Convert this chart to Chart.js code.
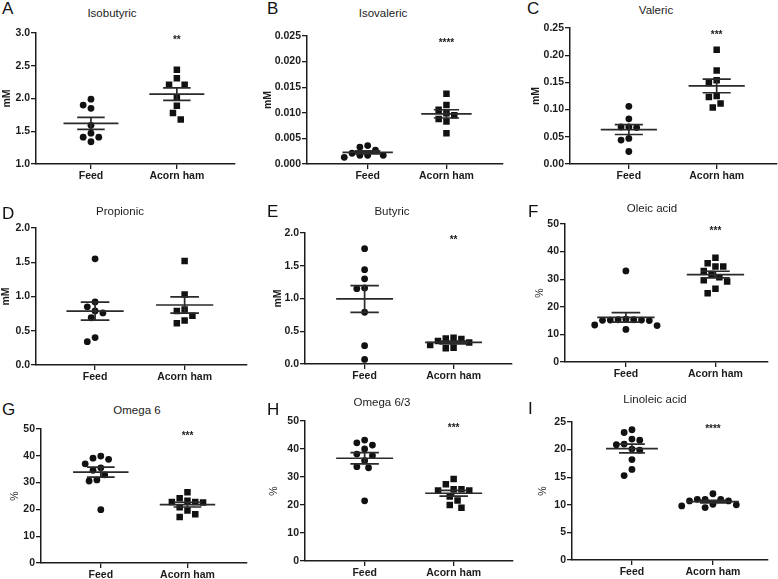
<!DOCTYPE html>
<html>
<head>
<meta charset="utf-8">
<script src="https://cdn.jsdelivr.net/npm/chart.js@4.4.1/dist/chart.umd.min.js"></script>
<style>
body{margin:0;background:#fff;width:778px;height:579px;position:relative;overflow:hidden;font-family:"Liberation Sans",Arial,sans-serif}
canvas{position:absolute}
.lt{position:absolute;font-size:17px;line-height:17px;color:#111}
.tt{position:absolute;font-size:11.5px;color:#1c1c1c;transform:translate(-50%,-50%);white-space:nowrap}
</style>
</head>
<body>
<script>
// ---- data ----
var categories = ["Feed", "Acorn ham"];
var panelLetters = ["A", "B", "C", "D", "E", "F", "G", "H", "I"];
var panelTitles = ["Isobutyric", "Isovaleric", "Valeric", "Propionic", "Butyric", "Oleic acid", "Omega 6", "Omega 6/3", "Linoleic acid"];
var yTitles = ["mM", "mM", "mM", "mM", "mM", "%", "%", "%", "%"];
var sigMarks = ["**", "****", "***", "", "**", "***", "***", "***", "****"];
var hamMarker = ["rect", "rect", "rect", "rect", "rect", "rect", "rect", "rect", "circle"];

var ticksA = ["1.0", "1.5", "2.0", "2.5", "3.0"];
var ticksB = ["0.000", "0.005", "0.010", "0.015", "0.020", "0.025"];
var ticksC = ["0.00", "0.05", "0.10", "0.15", "0.20", "0.25"];
var ticksD = ["0.0", "0.5", "1.0", "1.5", "2.0"];
var ticksE = ["0.0", "0.5", "1.0", "1.5", "2.0"];
var ticksF = ["0", "10", "20", "30", "40", "50"];
var ticksG = ["0", "10", "20", "30", "40", "50"];
var ticksH = ["0", "10", "20", "30", "40", "50"];
var ticksI = ["0", "5", "10", "15", "20", "25"];

var feedA = [1.99, 1.90, 1.85, 1.59, 1.47, 1.41, 1.41, 1.34];
var hamA = [2.44, 2.31, 2.21, 2.21, 2.02, 1.89, 1.78, 1.68];
var feedB = [0.0036, 0.0033, 0.0027, 0.0021, 0.0017, 0.0017, 0.0017, 0.0013];
var hamB = [0.0137, 0.0115, 0.0106, 0.0099, 0.0095, 0.0088, 0.0083, 0.0060];
var feedC = [0.106, 0.083, 0.068, 0.068, 0.067, 0.047, 0.044, 0.023];
var hamC = [0.210, 0.172, 0.154, 0.149, 0.125, 0.123, 0.111, 0.104];
var feedD = [1.55, 0.92, 0.85, 0.79, 0.76, 0.69, 0.40, 0.34];
var hamD = [1.52, 1.03, 0.81, 0.79, 0.72, 0.65, 0.61];
var feedE = [1.76, 1.44, 1.30, 1.16, 1.15, 0.79, 0.28, 0.07];
var hamE = [0.40, 0.39, 0.38, 0.35, 0.33, 0.29, 0.25, 0.24];
var feedF = [33.0, 15.5, 15.3, 15.3, 15.2, 15.2, 15.1, 15.0, 13.4, 13.2, 11.8];
var hamF = [37.8, 35.8, 34.6, 34.6, 33.0, 31.9, 30.7, 29.6, 29.2, 26.5, 24.9];
var feedG = [39.9, 39.1, 38.7, 37.0, 35.5, 34.6, 32.9, 31.0, 30.6, 19.9];
var hamG = [26.4, 24.2, 23.2, 22.8, 22.8, 22.6, 20.8, 19.6, 18.2, 17.2];
var feedH = [43.2, 42.2, 41.4, 40.0, 38.2, 37.6, 35.8, 33.7, 33.3, 21.5];
var hamH = [29.3, 27.4, 25.6, 25.6, 25.2, 25.2, 23.0, 21.6, 20.0, 19.0];
var feedI = [23.6, 23.1, 21.9, 21.7, 21.0, 20.9, 20.1, 19.9, 18.2, 16.4, 15.3];
var hamI = [12.0, 11.0, 11.0, 11.0, 10.7, 10.7, 10.1, 10.0, 9.8, 9.5];

var tickSets = [ticksA, ticksB, ticksC, ticksD, ticksE, ticksF, ticksG, ticksH, ticksI];
var feedSets = [feedA, feedB, feedC, feedD, feedE, feedF, feedG, feedH, feedI];
var hamSets = [hamA, hamB, hamC, hamD, hamE, hamF, hamG, hamH, hamI];

// ---- layout (pixels on the page) ----
var layoutPanels = [
    {axisX: 36, top: 33, bottom: 164, right: 235, titleX: 7, xmin: 0.36, xmax: 2.67, title: [112, 13], letter: [2, 8]},
    {axisX: 307, top: 36, bottom: 164, right: 503, titleX: 268, xmin: 0.23, xmax: 2.71, title: [383, 13], letter: [267, 8]},
    {axisX: 570, top: 28, bottom: 164, right: 777, titleX: 536, xmin: 0.33, xmax: 2.68, title: [656, 10], letter: [527, 8]},
    {axisX: 36, top: 228, bottom: 365, right: 247, titleX: 6, xmin: 0.34, xmax: 2.69, title: [120, 211], letter: [2, 213]},
    {axisX: 305, top: 233, bottom: 364, right: 512, titleX: 278, xmin: 0.33, xmax: 2.65, title: [392, 211], letter: [267, 211]},
    {axisX: 565, top: 224, bottom: 362, right: 768, titleX: 540, xmin: 0.32, xmax: 2.58, title: [652, 208], letter: [528, 211]},
    {axisX: 41, top: 429, bottom: 563, right: 247, titleX: 15, xmin: 0.31, xmax: 2.68, title: [137, 410], letter: [2, 409]},
    {axisX: 305, top: 421, bottom: 561, right: 513, titleX: 274, xmin: 0.33, xmax: 2.66, title: [382, 402], letter: [267, 409]},
    {axisX: 572, top: 422, bottom: 560, right: 768, titleX: 543, xmin: 0.26, xmax: 2.68, title: [655, 399], letter: [528, 408]}
];

var ink = "#1c1c1c";
var tickFont = {family: "Liberation Sans", size: 10.5, weight: "bold"};

function meanOf(v) {
    return v.reduce(function (a, b) { return a + b; }, 0) / v.length;
}
function semOf(v) {
    var m = meanOf(v);
    var ss = v.reduce(function (a, b) { return a + (b - m) * (b - m); }, 0);
    return Math.sqrt(ss / (v.length - 1)) / Math.sqrt(v.length);
}
// mean line + SEM whiskers, broken with null gaps
function barData(v, c) {
    var m = meanOf(v), s = semOf(v);
    return [
        {x: c - 0.32, y: m}, {x: c + 0.32, y: m}, {x: c, y: null},
        {x: c - 0.16, y: m + s}, {x: c + 0.16, y: m + s}, {x: c, y: null},
        {x: c - 0.16, y: m - s}, {x: c + 0.16, y: m - s}, {x: c, y: null},
        {x: c, y: m + s}, {x: c, y: m - s}
    ];
}

// spread points sideways so they don't overlap (dot plot)
function swarm(chart, dsIndex, center) {
    var ds = chart.data.datasets[dsIndex];
    var xs = chart.scales.x, ys = chart.scales.y;
    var cx = xs.getPixelForValue(center);
    var D = 7.8, step = D / 2;
    var placed = [];
    var order = ds.data.map(function (p, i) { return i; })
        .sort(function (a, b) { return ds.data[b].y - ds.data[a].y; });
    order.forEach(function (i) {
        var py = ys.getPixelForValue(ds.data[i].y);
        for (var k = 0; k < 60; k++) {
            var off = (k % 2 ? -1 : 1) * Math.ceil(k / 2) * step;
            var free = placed.every(function (p) { return Math.hypot(p.x - off, p.y - py) >= D; });
            if (free) {
                placed.push({x: off, y: py});
                ds.data[i].x = xs.getValueForPixel(cx + off);
                break;
            }
        }
    });
}

function addText(cls, txt, x, y) {
    var d = document.createElement("div");
    d.className = cls;
    d.textContent = txt;
    d.style.left = x + "px";
    d.style.top = y + "px";
    document.body.appendChild(d);
}

function makePanel(idx) {
    var L = layoutPanels[idx];
    var labels = tickSets[idx];
    var yW = L.axisX - L.titleX + 10;
    var padTop = 8, xH = 22, padRight = 4;
    var w = yW + (L.right - L.axisX) + padRight;
    var h = padTop + (L.bottom - L.top) + xH;

    var canvas = document.createElement("canvas");
    canvas.width = w;
    canvas.height = h;
    canvas.style.left = (L.axisX - yW) + "px";
    canvas.style.top = (L.top - padTop) + "px";
    canvas.style.width = w + "px";
    canvas.style.height = h + "px";
    document.body.appendChild(canvas);

    addText("lt", panelLetters[idx], L.letter[0], L.letter[1] - 8);
    addText("tt", panelTitles[idx], L.title[0], L.title[1]);

    var sig = sigMarks[idx];
    var sigPlugin = {
        id: "sigMark",
        afterDatasetsDraw: function (chart) {
            if (!sig) return;
            var ctx = chart.ctx;
            ctx.save();
            ctx.fillStyle = ink;
            ctx.font = "bold 10px 'Liberation Sans'";
            ctx.textAlign = "center";
            ctx.textBaseline = "top";
            ctx.fillText(sig, chart.scales.x.getPixelForValue(2), chart.chartArea.top + 2);
            ctx.restore();
        }
    };

    var feed = feedSets[idx], ham = hamSets[idx];
    var chart = new Chart(canvas.getContext("2d"), {
        type: "scatter",
        data: {
            datasets: [
                {data: feed.map(function (v) { return {x: 1, y: v}; }), pointStyle: "circle", pointRadius: 3.4,
                    backgroundColor: "#111", borderColor: "#111", borderWidth: 0, order: 1},
                {data: ham.map(function (v) { return {x: 2, y: v}; }), pointStyle: hamMarker[idx],
                    pointRadius: hamMarker[idx] === "rect" ? 4.6 : 3.4,
                    backgroundColor: "#111", borderColor: "#111", borderWidth: 0, order: 1},
                {data: barData(feed, 1), showLine: true, spanGaps: false, pointRadius: 0,
                    borderColor: "#2a2a2a", borderWidth: 1.7, order: 0},
                {data: barData(ham, 2), showLine: true, spanGaps: false, pointRadius: 0,
                    borderColor: "#2a2a2a", borderWidth: 1.7, order: 0}
            ]
        },
        options: {
            responsive: false,
            animation: false,
            devicePixelRatio: 1,
            layout: {padding: {top: padTop, right: padRight, left: 0, bottom: 0}},
            plugins: {legend: {display: false}, tooltip: {enabled: false}},
            scales: {
                x: {
                    type: "linear",
                    min: L.xmin,
                    max: L.xmax,
                    afterBuildTicks: function (s) { s.ticks = [{value: 1}, {value: 2}]; },
                    afterFit: function (s) { s.height = xH; },
                    ticks: {
                        color: ink, font: tickFont, padding: 1, maxRotation: 0, autoSkip: false,
                        callback: function (v) { return categories[Math.round(v) - 1]; }
                    },
                    grid: {drawOnChartArea: false, drawTicks: true, tickLength: 5, color: ink, lineWidth: 1.3},
                    border: {display: true, color: ink, width: 1.5}
                },
                y: {
                    type: "linear",
                    min: parseFloat(labels[0]),
                    max: parseFloat(labels[labels.length - 1]),
                    afterBuildTicks: function (s) {
                        s.ticks = labels.map(function (l) { return {value: parseFloat(l)}; });
                    },
                    afterFit: function (s) { s.width = yW; },
                    ticks: {
                        color: ink, font: tickFont, padding: 1, autoSkip: false,
                        callback: function (v, i) { return labels[i]; }
                    },
                    grid: {drawOnChartArea: false, drawTicks: true, tickLength: 5, color: ink, lineWidth: 1.3},
                    border: {display: true, color: ink, width: 1.5},
                    title: {
                        display: true, text: yTitles[idx], color: ink,
                        font: {family: "Liberation Sans", size: 10.5, weight: yTitles[idx] === "mM" ? "bold" : "normal"}
                    }
                }
            }
        },
        plugins: [sigPlugin]
    });

    swarm(chart, 0, 1);
    swarm(chart, 1, 2);
    chart.update("none");
}

for (var i = 0; i < 9; i++) makePanel(i);
</script>
</body>
</html>
